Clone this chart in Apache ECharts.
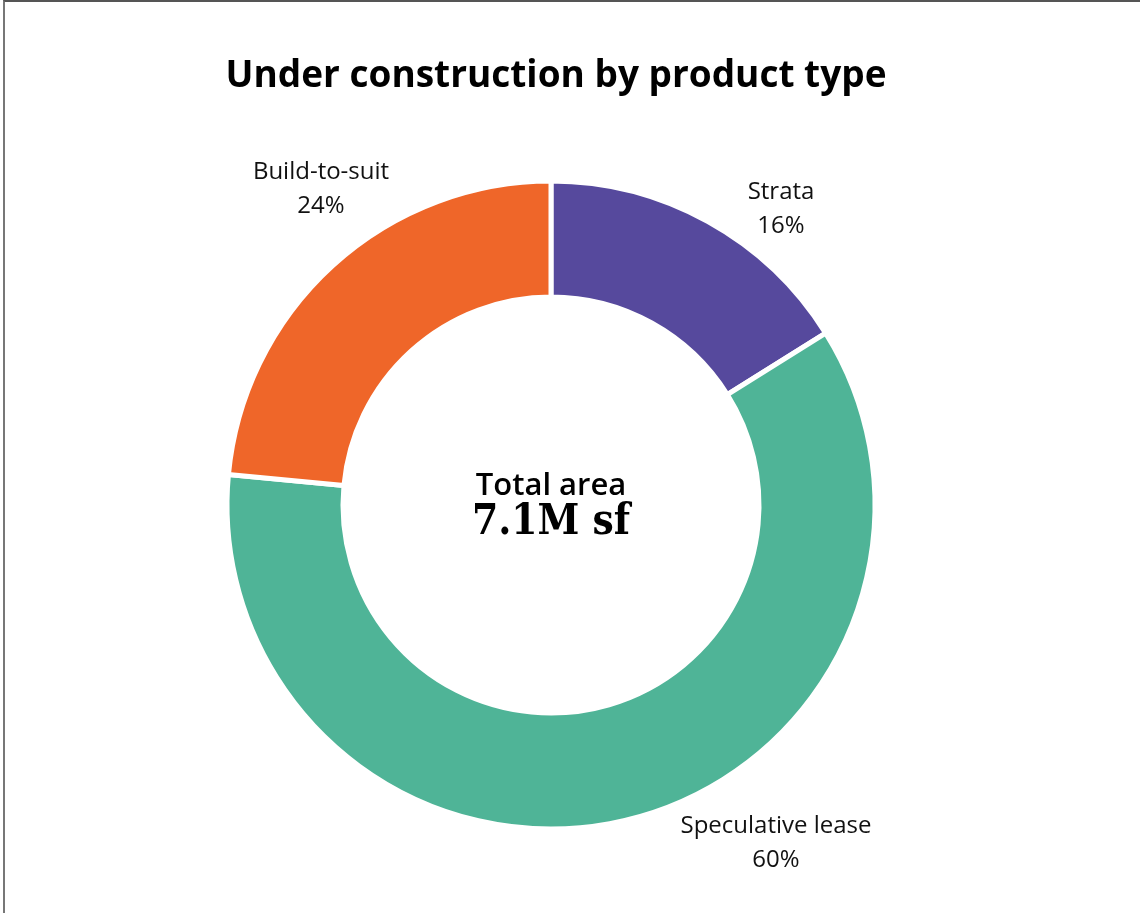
<!DOCTYPE html>
<html>
<head>
<meta charset="utf-8">
<script src="https://cdn.jsdelivr.net/npm/echarts@6/dist/echarts.min.js"></script>
<style>
html,body{margin:0;padding:0;background:#fff;}
#frame{position:absolute;left:3px;top:0;width:1137px;height:913px;border-left:2px solid #777;border-top:2px solid #555;box-sizing:border-box;}
#chart{position:absolute;left:0;top:0;width:1140px;height:913px;}
</style>
</head>
<body>
<div id="chart"></div>
<div id="frame"></div>
<script>
const titleText = 'Under construction by product type';
const categories = ['Strata', 'Speculative lease', 'Build-to-suit'];
const shares = [16.1, 60.4, 23.5];
const colors = ['#56499D', '#4FB497', '#EF6629'];
const centerLabel = 'Total area';
const centerValue = '7.1M sf';

// label placement offsets from the pie centre (layout, not data)
const labelOffsets = [[230, -296], [225, 338], [-230, -316]];
const cx = 551, cy = 505;

const chart = echarts.init(document.getElementById('chart'), null, {renderer: 'canvas'});
chart.setOption({
  animation: false,
  title: [{
    text: titleText,
    left: 556, top: 58, textAlign: 'center', padding: 0,
    textStyle: {fontFamily: 'Open Sans', fontWeight: 'bold', fontSize: 37, color: '#000'}
  }, {
    text: centerLabel,
    left: cx, top: 471, textAlign: 'center', padding: 0,
    textStyle: {fontFamily: 'Open Sans', fontWeight: 600, fontSize: 31, color: '#000'}
  }, {
    text: centerValue,
    left: cx, top: 502, textAlign: 'center', padding: 0,
    textStyle: {fontFamily: '"DejaVu Serif Condensed", "DejaVu Serif"', fontWeight: 'bold', fontSize: 42, color: '#000'}
  }],
  series: [{
    type: 'pie',
    center: [cx, cy],
    radius: [208, 324],
    startAngle: 90,
    clockwise: true,
    avoidLabelOverlap: false,
    itemStyle: {borderColor: '#fff', borderWidth: 5},
    label: {
      show: true,
      position: 'outside',
      formatter: p => p.name + '\n' + Math.round(p.percent) + '%',
      fontFamily: 'Open Sans',
      fontSize: 24,
      lineHeight: 34,
      color: '#111',
      align: 'center'
    },
    labelLine: {show: false},
    labelLayout: p => ({
      x: cx + labelOffsets[p.dataIndex][0],
      y: cy + labelOffsets[p.dataIndex][1],
      align: 'center',
      verticalAlign: 'middle'
    }),
    emphasis: {disabled: true},
    data: categories.map((c, i) => ({name: c, value: shares[i], itemStyle: {color: colors[i]}}))
  }]
});
</script>
</body>
</html>
